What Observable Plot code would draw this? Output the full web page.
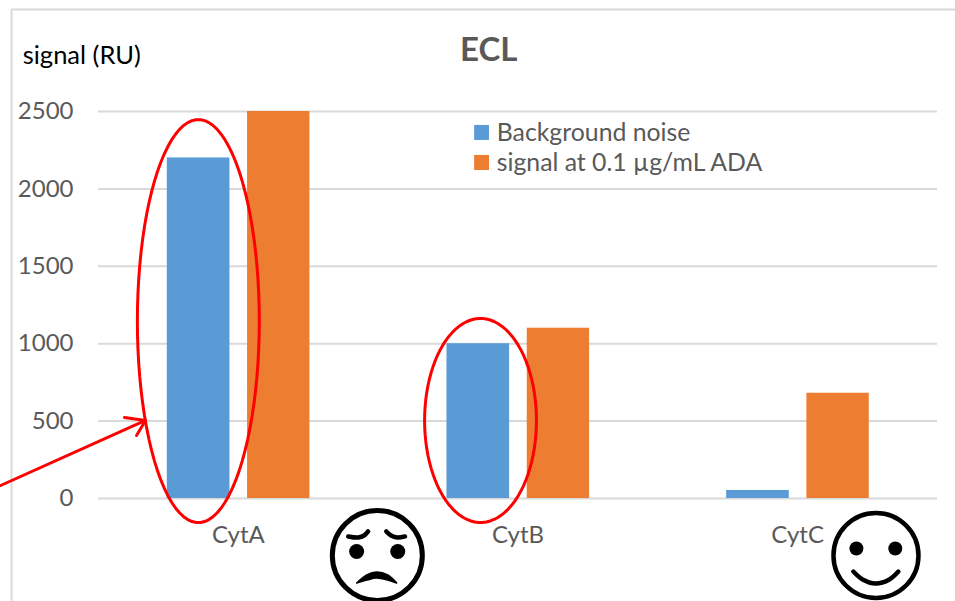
<!DOCTYPE html>
<html>
<head>
<meta charset="utf-8">
<script src="https://cdn.jsdelivr.net/npm/d3@7"></script>
<script src="https://cdn.jsdelivr.net/npm/@observablehq/plot@0.6"></script>
<style>
html,body{margin:0;padding:0;background:#fff;overflow:hidden}
svg{display:block}
</style>
</head>
<body>
<div id="chart"></div>
<script>
const categories = ["CytA", "CytB", "CytC"];
const noiseValues = [2200, 1000, 52];
const signalValues = [2500, 1100, 680];
const seriesNames = ["Background noise", "signal at 0.1 µg/mL ADA"];
const yTicks = [0, 500, 1000, 1500, 2000, 2500];
const colors = ["#5b9bd5", "#ed7d31"];

// annotation geometry, in scale units (category index, signal)
const ellipses = [
  {cx: -0.143, rx: 0.218, cy: 1146, ry: 1302},
  {cx: 0.866, rx: 0.2, cy: 504, ry: 659}
];
const arrowShaft = [[-0.85, 84], [-0.332, 504]];
const arrowHead = [[-0.407, 523], [-0.332, 504], [-0.364, 407]];
const sadFace = {x: 0.497, y: -368};
const sadEyes = [[0.423, -342], [0.57, -342]];
const sadBrowL = [[0.393, -245], [0.429, -252], [0.45, -239], [0.464, -213]];
const sadBrowR = [[0.529, -213], [0.546, -239], [0.568, -252], [0.596, -245]];
const sadMouthX = [0.425, 0.461, 0.496, 0.536, 0.568];
const sadMouthTop = [-549, -497, -478, -497, -549];
const sadMouthBottom = [-549, -530, -517, -530, -549];
const happyFace = {x: 2.28, y: -368};
const happyEyes = [[2.21, -323], [2.349, -323]];
const happyMouth = [[2.199, -472], [2.232, -523], [2.278, -549], [2.328, -523], [2.36, -472]];

const bars = [
  ...categories.map((c, i) => ({x1: i - 0.254, x2: i - 0.03, y: noiseValues[i], s: 0})),
  ...categories.map((c, i) => ({x1: i + 0.033, x2: i + 0.256, y: signalValues[i], s: 1}))
];
const ellipsePts = e => d3.range(0, 361, 4).map(a => [
  e.cx + e.rx * Math.cos(a * Math.PI / 180),
  e.cy + e.ry * Math.sin(a * Math.PI / 180)
]);
const font = "Lato, 'Open Sans', sans-serif";
const grey = "#595959";
const red = {stroke: "#ff0000", strokeWidth: 3};
const ink = {stroke: "#000", strokeWidth: 4.5, strokeLinecap: "round"};

const chart = Plot.plot({
  width: 955, height: 601,
  marginLeft: 98, marginRight: 18, marginTop: 111, marginBottom: 103,
  style: {fontFamily: font, background: "transparent"},
  x: {domain: [-0.5, 2.5]},
  y: {domain: [0, 2500]},
  marks: [
    Plot.ruleX([-0.811], {y1: -665, y2: 3159, stroke: "#d9d9d9", strokeWidth: 2}),
    Plot.ruleY([3159], {x1: -0.811, x2: 2.57, stroke: "#d9d9d9", strokeWidth: 2}),
    Plot.ruleY(yTicks, {stroke: "#d9d9d9", strokeWidth: 2}),
    Plot.rectY(bars, {x1: "x1", x2: "x2", y1: 0, y2: "y", fill: d => colors[d.s]}),
    Plot.axisY({ticks: yTicks, tickFormat: d => String(d), tickSize: 0, tickPadding: 25, label: null, fontSize: 24, color: grey}),
    Plot.axisX({ticks: [0, 1, 2], tickFormat: i => categories[i], tickSize: 0, tickPadding: 27, label: null, fontSize: 24, color: grey}),
    Plot.text(["signal (RU)"], {x: -0.771, y: 2862, textAnchor: "start", fontSize: 25.5, fill: "#000"}),
    Plot.text(["ECL"], {x: 0.895, y: 2894, fontSize: 33, fontWeight: "bold", fill: grey}),
    Plot.rect([0, 1], {x1: 0.845, x2: 0.898, y1: i => [2313, 2119][i], y2: i => [2410, 2216][i], fill: i => colors[i]}),
    Plot.text(seriesNames, {x: 0.924, y: (d, i) => [2361, 2167][i], textAnchor: "start", fontSize: 24.8, fill: grey}),
    ...ellipses.map(e => Plot.line(ellipsePts(e), red)),
    Plot.line(arrowShaft, red),
    Plot.line(arrowHead, red),
    Plot.dot([sadFace], {x: "x", y: "y", r: 45, stroke: "#000", strokeWidth: 5, fill: "#fff"}),
    Plot.dot(sadEyes, {r: 7.5, fill: "#000"}),
    Plot.line(sadBrowL, {...ink, curve: "catmull-rom"}),
    Plot.line(sadBrowR, {...ink, curve: "catmull-rom"}),
    Plot.areaY(sadMouthX, {x: d => d, y1: (d, i) => sadMouthBottom[i], y2: (d, i) => sadMouthTop[i], fill: "#000", stroke: "#000", strokeWidth: 1.5, curve: "catmull-rom"}),
    Plot.dot([happyFace], {x: "x", y: "y", r: 42.5, stroke: "#000", strokeWidth: 4.5, fill: "#fff"}),
    Plot.dot(happyEyes, {r: 7, fill: "#000"}),
    Plot.line(happyMouth, {...ink, curve: "catmull-rom"})
  ]
});
document.getElementById("chart").appendChild(chart);
</script>
</body>
</html>
